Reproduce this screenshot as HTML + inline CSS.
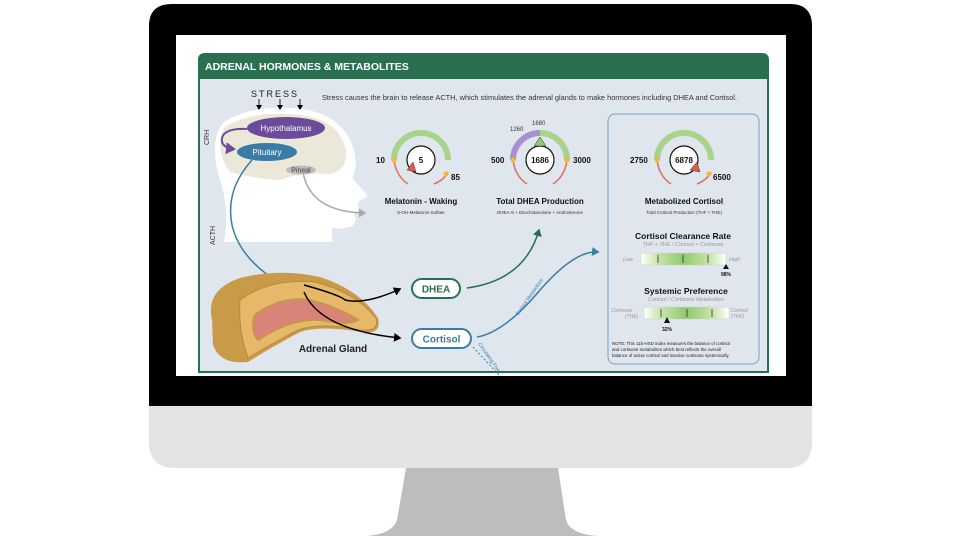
<!DOCTYPE html>
<html><head><meta charset="utf-8"><style>html,body{margin:0;padding:0;background:#fff;width:960px;height:540px;overflow:hidden}svg{display:block;font-family:"Liberation Sans",sans-serif}</style></head><body>
<svg width="960" height="540" viewBox="0 0 960 540" xmlns="http://www.w3.org/2000/svg">
<defs>
<marker id="ab" markerWidth="6" markerHeight="6" refX="4" refY="3" orient="auto"><path d="M0,0 L5,3 L0,6 z" fill="#000"/></marker>
<marker id="abl" markerWidth="6" markerHeight="6" refX="4" refY="3" orient="auto"><path d="M0,0 L5,3 L0,6 z" fill="#3a7ca5"/></marker>
<marker id="agr" markerWidth="6" markerHeight="6" refX="4" refY="3" orient="auto"><path d="M0,0 L5,3 L0,6 z" fill="#2a7050"/></marker>
<marker id="agy" markerWidth="6" markerHeight="6" refX="4" refY="3" orient="auto"><path d="M0,0 L5,3 L0,6 z" fill="#aaa"/></marker>
<marker id="apu" markerWidth="6" markerHeight="6" refX="4" refY="3" orient="auto"><path d="M0,0 L5,3 L0,6 z" fill="#6b4c9a"/></marker>
<linearGradient id="bar" x1="0" x2="1"><stop offset="0" stop-color="#fff"/><stop offset="0.2" stop-color="#c8e3a8"/><stop offset="0.5" stop-color="#8fcb6c"/><stop offset="0.8" stop-color="#c8e3a8"/><stop offset="1" stop-color="#fff"/></linearGradient>
</defs>
<!-- monitor -->
<path d="M149,405 L812,405 L812,442 Q812,468 786,468 L175,468 Q149,468 149,442 Z" fill="#e3e3e3"/>
<path d="M406,468 L558,468 L566,520 Q570,534 598,536 L367,536 Q392,534 397,520 Z" fill="#bdbdbd"/>
<path d="M172,4 L790,4 Q812,4 812,26 L812,406 L149,406 L149,26 Q149,4 172,4 Z" fill="#000"/>
<rect x="176" y="35" width="610" height="341" fill="#fff"/>
<!-- panel -->
<path d="M198,78 L198,60 Q198,53 205,53 L762,53 Q769,53 769,60 L769,78 Z" fill="#2a7050"/>
<rect x="199" y="78" width="569" height="294" fill="#dfe6ee" stroke="#2a7050" stroke-width="2"/>
<rect x="176" y="373" width="610" height="3" fill="#fff"/>
<text x="205" y="70" font-size="10.5" font-weight="bold" fill="#fff">ADRENAL HORMONES &amp; METABOLITES</text>
<text x="322" y="100" font-size="7.4" fill="#333">Stress causes the brain to release ACTH, which stimulates the adrenal glands to make hormones including DHEA and Cortisol.</text>
<!-- head -->
<path d="M224,122 Q248,106 290,108 Q342,110 354,150 Q358,168 352,178 L368,196 Q362,200 358,202 Q360,212 354,214 Q358,222 352,226 Q342,230 332,228 L332,242 L224,242 Q230,210 220,180 Q208,140 224,122 Z" fill="#fff"/>
<path d="M224,128 Q246,112 290,114 Q338,116 346,150 Q348,170 330,174 Q300,172 280,180 Q250,178 230,172 Q214,150 224,128 Z" fill="#ebe7d9"/>
<text x="251" y="97" font-size="9" letter-spacing="2" fill="#222">STRESS</text>
<g stroke="#222" stroke-width="1" marker-end="url(#ab)"><line x1="259" y1="99" x2="259" y2="109"/><line x1="280" y1="99" x2="280" y2="109"/><line x1="300" y1="99" x2="300" y2="109"/></g>
<path d="M247,129 Q220,128 222,142 Q224,148 234,149" fill="none" stroke="#6b4c9a" stroke-width="2" marker-end="url(#apu)"/>
<ellipse cx="286" cy="128" rx="39" ry="11" fill="#6b4c9a"/>
<text x="286" y="131" font-size="8" fill="#fff" text-anchor="middle">Hypothalamus</text>
<ellipse cx="267" cy="152" rx="30" ry="9" fill="#3a7ca5"/>
<text x="267" y="155" font-size="8" fill="#fff" text-anchor="middle">Pituitary</text>
<path d="M303,172 Q310,212 365,213" fill="none" stroke="#aaa" stroke-width="1.5" marker-end="url(#agy)"/>
<ellipse cx="301" cy="170" rx="15" ry="4.5" fill="#bbb"/>
<text x="301" y="172.5" font-size="7" fill="#444" text-anchor="middle">Pineal</text>
<text x="0" y="0" font-size="7" fill="#333" transform="translate(209,145) rotate(-90)">CRH</text>
<text x="0" y="0" font-size="7" fill="#333" transform="translate(215,245) rotate(-90)">ACTH</text>
<path d="M252,160 Q225,190 232,225 Q240,260 283,285" fill="none" stroke="#3a7ca5" stroke-width="1.5" marker-end="url(#abl)"/>
<!-- adrenal gland -->
<path d="M212,320 Q205,290 240,278 Q280,268 320,277 Q360,290 378,318 Q382,335 362,332 Q320,325 300,332 Q270,348 248,362 Q220,365 213,345 Z" fill="#c99a48"/>
<path d="M240,300 Q270,278 315,282 Q355,292 376,318 Q380,332 360,330 Q320,322 298,330 Q268,346 248,358 Q238,330 240,300 Z" fill="#e6b869" stroke="#b88a3a" stroke-width="1"/>
<path d="M255,315 Q280,296 310,300 Q340,308 358,320 Q350,326 320,320 Q290,318 258,340 Q250,330 255,315 Z" fill="#d88478" stroke="#c9954a" stroke-width="2"/>
<text x="333" y="352" font-size="10" font-weight="bold" fill="#222" text-anchor="middle">Adrenal Gland</text>
<path d="M304,285 Q340,295 345,300 Q365,305 400,289" fill="none" stroke="#000" stroke-width="1.5" marker-end="url(#ab)"/>
<path d="M304,292 Q320,330 400,338" fill="none" stroke="#000" stroke-width="1.5" marker-end="url(#ab)"/>
<rect x="412" y="279" width="48" height="19" rx="9.5" fill="#fff" stroke="#2a7050" stroke-width="2"/>
<text x="436" y="292.5" font-size="10" font-weight="bold" fill="#2a7050" text-anchor="middle">DHEA</text>
<rect x="412" y="329" width="59" height="19" rx="9.5" fill="#fff" stroke="#3a7ca5" stroke-width="2"/>
<text x="441.5" y="342.5" font-size="10" font-weight="bold" fill="#3a7ca5" text-anchor="middle">Cortisol</text>
<path d="M467,288 Q525,280 539,230" fill="none" stroke="#2a7050" stroke-width="1.5" marker-end="url(#agr)"/>
<path d="M477,337 Q505,332 540,290 Q575,250 598,252" fill="none" stroke="#3a7ca5" stroke-width="1.5" marker-end="url(#abl)"/>
<text x="0" y="0" font-size="5" fill="#3a7ca5" transform="translate(518,316) rotate(-55)">Cortisol Metabolism</text>
<path d="M473,347 L500,376" stroke="#3a7ca5" stroke-width="1" stroke-dasharray="2,2"/>
<text x="0" y="0" font-size="5" fill="#3a7ca5" transform="translate(478,344) rotate(55)">Circulating Free</text>
<!-- gauges -->
<g fill="none" stroke-width="6">
<path d="M394,160 A27,27 0 0 1 448,160" stroke="#a7d38a"/>
<path d="M513,160 A27,27 0 0 1 540,133" stroke="#a98fcf"/>
<path d="M540,133 A27,27 0 0 1 567,160" stroke="#a7d38a"/>
<path d="M657,160 A27,27 0 0 1 711,160" stroke="#a7d38a"/>
</g>
<g fill="none" stroke="#e07060" stroke-width="1.5">
<path d="M394,160 Q396,176 408,184"/><path d="M448,172 Q444,180 434,184"/>
<path d="M513,160 Q515,176 527,184"/><path d="M567,160 Q565,176 553,184"/>
<path d="M657,160 Q659,176 671,184"/><path d="M711,172 Q707,180 697,184"/>
</g>
<g fill="#fff" stroke="#111" stroke-width="1.2">
<circle cx="421" cy="160" r="14"/><circle cx="540" cy="160" r="14"/><circle cx="684" cy="160" r="14"/>
</g>
<path d="M407,170 L413,162 L416,172 Z" fill="#e05a4a" stroke="#333" stroke-width="0.5"/>
<path d="M534,146 L540,137 L546,146 Z" fill="#8fcb6c" stroke="#333" stroke-width="0.5"/>
<path d="M690,170 L697,162 L700,172 Z" fill="#e05a4a" stroke="#333" stroke-width="0.5"/>
<g fill="#f5b82e"><circle cx="394" cy="160" r="2.5"/><circle cx="446" cy="174" r="2.5"/><circle cx="513" cy="160" r="2.5"/><circle cx="567" cy="160" r="2.5"/><circle cx="657" cy="160" r="2.5"/><circle cx="709" cy="174" r="2.5"/></g>
<g font-weight="bold" fill="#111" font-size="8">
<text x="421" y="163" text-anchor="middle">5</text><text x="540" y="163" text-anchor="middle">1686</text><text x="684" y="163" text-anchor="middle">6878</text>
<text x="376" y="163">10</text><text x="451" y="180">85</text>
<text x="491" y="163">500</text><text x="573" y="163">3000</text>
<text x="630" y="163">2750</text><text x="713" y="180">6500</text>
</g>
<text x="510" y="131" font-size="6" fill="#333">1260</text><text x="532" y="125" font-size="6" fill="#333">1680</text>
<g font-weight="bold" fill="#111" font-size="8" text-anchor="middle">
<text x="421" y="204">Melatonin - Waking</text><text x="540" y="204">Total DHEA Production</text><text x="684" y="204">Metabolized Cortisol</text>
</g>
<g fill="#333" font-size="4.5" text-anchor="middle">
<text x="421" y="214">6-OH-Melatonin-Sulfate</text><text x="540" y="214">DHEA-S + Etiocholanolone + Androsterone</text><text x="684" y="214">Total Cortisol Production (THF + THE)</text>
</g>
<!-- right box -->
<rect x="608" y="114" width="151" height="250" rx="7" fill="none" stroke="#7aa3c4" stroke-width="1"/>
<text x="683" y="239" font-size="8.5" font-weight="bold" fill="#111" text-anchor="middle">Cortisol Clearance Rate</text>
<text x="683" y="246" font-size="5.5" font-style="italic" fill="#999" text-anchor="middle">THF + THE / Cortisol + Cortisone</text>
<rect x="641" y="253" width="85" height="12" fill="url(#bar)" stroke="#ccc" stroke-width="0.5"/>
<rect x="644" y="307" width="85" height="12" fill="url(#bar)" stroke="#ccc" stroke-width="0.5"/>
<g stroke="#333" stroke-width="0.8"><line x1="658" y1="255" x2="658" y2="263"/><line x1="683" y1="255" x2="683" y2="263"/><line x1="708" y1="255" x2="708" y2="263"/><line x1="661" y1="309" x2="661" y2="317"/><line x1="687" y1="309" x2="687" y2="317"/><line x1="712" y1="309" x2="712" y2="317"/></g>
<text x="623" y="261" font-size="5.5" font-style="italic" fill="#999">Low</text><text x="729" y="261" font-size="5.5" font-style="italic" fill="#999">High</text>
<path d="M723,269 L726,264 L729,269 Z" fill="#111"/>
<text x="721" y="276" font-size="5" font-weight="bold" fill="#111">98%</text>
<text x="686" y="294" font-size="8.5" font-weight="bold" fill="#111" text-anchor="middle">Systemic Preference</text>
<text x="686" y="301" font-size="5.5" font-style="italic" fill="#999" text-anchor="middle">Cortisol / Cortisone Metabolites</text>
<text x="611" y="312" font-size="5" font-style="italic" fill="#999">Cortisone</text><text x="625" y="318" font-size="5" font-style="italic" fill="#999">(THE)</text>
<text x="731" y="312" font-size="5" font-style="italic" fill="#999">Cortisol</text><text x="731" y="318" font-size="5" font-style="italic" fill="#999">(THF)</text>
<path d="M664,323 L667,317 L670,323 Z" fill="#111"/>
<text x="662" y="331" font-size="5" font-weight="bold" fill="#111">32%</text>
<g font-size="4.4" fill="#222"><text x="612" y="345">NOTE: This 11b-HSD index measures the balance of cortisol</text><text x="612" y="351">and cortisone metabolites which best reflects the overall</text><text x="612" y="357">balance of active cortisol and inactive cortisone systemically.</text></g>
</svg>
</body></html>
